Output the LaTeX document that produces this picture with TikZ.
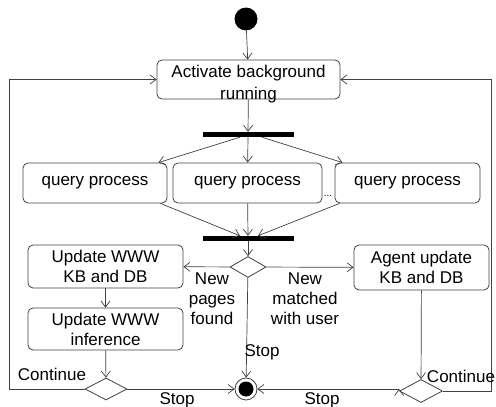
\documentclass[tikz,border=0pt]{standalone}
\usepackage{fontspec}
\setmainfont{Liberation Sans}
\usetikzlibrary{shapes.geometric,arrows.meta}

\begin{document}
\begin{tikzpicture}[x=1pt,y=-1pt,
  font=\fontsize{17}{20}\selectfont,
  state node/.style={rectangle,rounded corners=5pt,draw=black!75,line width=0.8pt,align=center,inner sep=0pt},
  bar node/.style={rectangle,fill=black,minimum width=91pt,minimum height=5pt,inner sep=0pt},
  choice node/.style={diamond,draw=black!75,line width=0.8pt,inner sep=0pt},
  flow/.style={draw=black!75,line width=0.7pt,-{Straight Barb[length=6pt,width=9pt]}}]

  \useasboundingbox (0,0) rectangle (496,407);

  \node[circle,fill=black,minimum size=23pt,inner sep=0pt] (start) at (246,19) {};
  \node[state node,minimum width=183pt,minimum height=39pt] (act) at (248.5,79.5) {};
  \node[align=center,font=\fontsize{17}{22}\selectfont] (acttext) at (248.5,84) {Activate background\\running};
  \node[bar node] (fork) at (248,134.5) {};

  \node[state node,minimum width=144pt,minimum height=40pt] (q1) at (95,183) {query process};
  \node[state node,minimum width=149pt,minimum height=40pt] (q2) at (247.5,183) {query process};
  \node[state node,minimum width=145pt,minimum height=40pt] (q3) at (407.5,183) {query process};
  \node[font=\fontsize{10}{12}\selectfont] (dots) at (328,196) {...};

  \node[bar node] (join) at (248,238.5) {};
  \node[choice node,minimum width=36pt,minimum height=21pt] (dec) at (248,267) {};

  \node[state node,minimum width=155pt,minimum height=43pt] (upd) at (105.5,266.5) {Update WWW\\KB and DB};
  \node[state node,minimum width=155pt,minimum height=42pt] (inf) at (105.5,329) {Update WWW\\inference};
  \node[state node,minimum width=135pt,minimum height=45pt] (agent) at (421.5,267.5) {Agent update\\KB and DB};

  \node[choice node,minimum width=42pt,minimum height=22pt] (ldec) at (106,389) {};
  \node[choice node,minimum width=43pt,minimum height=23pt] (rdec) at (421,391) {};
  \node[circle,draw=black!75,line width=0.8pt,minimum size=22pt,inner sep=0pt,
        path picture={\fill (path picture bounding box.center) circle (7.5pt);}] (stop) at (246,389) {};

  \coordinate (lc) at (9,79.5);
  \coordinate (rc) at (491,79.5);

  \path[flow]
   (start) edge (act)
   (act) edge (fork)
   ([xshift=-8pt]fork.south) edge ([xshift=-9pt]q1.north east)
   (fork) edge (q2)
   ([xshift=14pt]fork.south) edge ([xshift=8pt]q3.north west)
   ([xshift=-7pt]q1.south east) edge ([xshift=-8pt]join.north)
   (q2) edge (join)
   ([xshift=5pt]q3.south west) edge ([xshift=10pt]join.north)
   (join) edge (dec)
   (dec) edge (upd)
   (dec) edge (agent)
   (dec) edge (stop)
   (upd) edge (inf)
   (inf) edge (ldec)
   (agent) edge (rdec)
   (ldec) edge (stop)
   (rdec.west |- stop) edge (stop);

  \draw[flow] (ldec.west) -| (lc) -- (act.west);
  \draw[flow] (rdec.east) -| (rc) -- (act.east);

  \node[align=center] (newpages) at (212,299) {New\\pages\\found};
  \node[align=center] (newmatched) at (305,299) {New\\matched\\with user};
  \node (stopmid) at (262,352) {Stop};
  \node (stopleft) at (177,400) {Stop};
  \node (stopright) at (322,400) {Stop};
  \node (contleft) at (52,374) {Continue};
  \node (contright) at (461,376) {Continue};
\end{tikzpicture}
\end{document}
